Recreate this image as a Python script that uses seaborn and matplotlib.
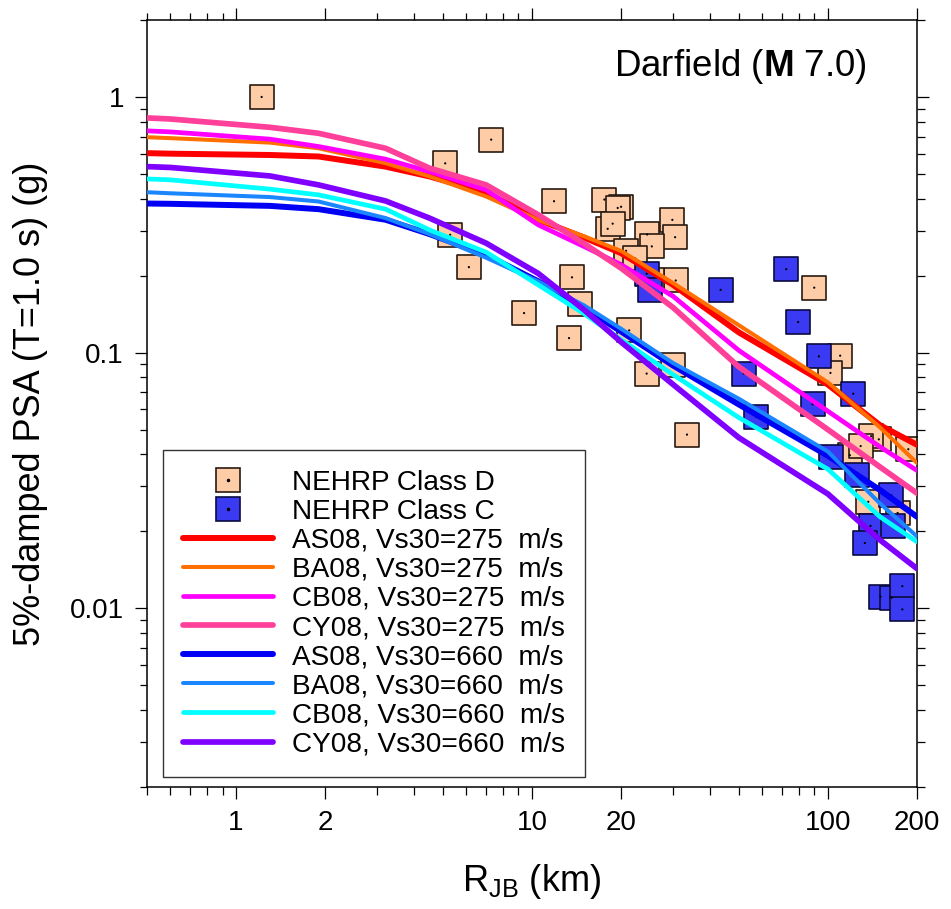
import matplotlib
matplotlib.use("Agg")
import matplotlib.pyplot as plt
import seaborn as sns
from matplotlib.lines import Line2D
from matplotlib.legend_handler import HandlerTuple
from matplotlib.ticker import FixedLocator, FuncFormatter, NullFormatter

sns.set_theme(style="white")
plt.rcParams["font.family"] = ["Liberation Sans", "DejaVu Sans"]
plt.rcParams["mathtext.fontset"] = "custom"
plt.rcParams["mathtext.rm"] = "Liberation Sans"
plt.rcParams["mathtext.bf"] = "Liberation Sans:bold"
plt.rcParams["mathtext.it"] = "Liberation Sans:italic"
for key in ("text.color", "axes.labelcolor", "xtick.color", "ytick.color"):
    plt.rcParams[key] = "black"

# ---- recorded motions (Joyner-Boore distance in km, PSA in g) ----
class_d_rjb = [1.22, 5.09, 7.28, 5.29, 6.12, 9.40, 11.87, 13.65, 14.49, 13.34,
               17.56, 20.0, 19.48, 18.02, 18.73, 29.8, 30.45, 24.5, 25.4, 20.8,
               22.35, 30.6, 25.5, 21.3, 24.4, 30.0, 33.4, 89.9, 110.0, 102.0,
               118.6, 148.6, 140.0, 186.9, 129.0, 136.9, 172.0]
class_d_psa = [1.00, 0.550, 0.681, 0.289, 0.216, 0.1428, 0.391, 0.197, 0.1553, 0.114,
               0.397, 0.372, 0.368, 0.305, 0.3195, 0.3306, 0.2828, 0.2898, 0.2603, 0.2503,
               0.2335, 0.1915, 0.1915, 0.1222, 0.0828, 0.0892, 0.0478, 0.1795, 0.0973, 0.0833,
               0.0397, 0.0458, 0.0471, 0.0419, 0.0431, 0.0261, 0.0236]

class_c_rjb = [24.4, 25.1, 43.4, 72.3, 79.3, 93.2, 51.9, 57.3, 88.7, 121.8,
               102.6, 125.0, 163.7, 139.3, 166.3, 133.3, 150.6, 164.1, 178.4, 178.4]
class_c_psa = [0.2035, 0.1752, 0.176, 0.2121, 0.1317, 0.0967, 0.0828, 0.056, 0.0628, 0.0691,
               0.0391, 0.0332, 0.0277, 0.021, 0.021, 0.018, 0.0111, 0.011, 0.0122, 0.0099]

# ---- GMPE median predictions ----
r_grid = [0.5, 0.6, 1.3, 1.9, 3.2, 4.5, 7.0, 10.5, 15.0, 20.0, 30.0, 50.0, 100.0, 150.0, 200.0]

as08_275 = [0.603, 0.600, 0.593, 0.585, 0.534, 0.489, 0.423, 0.331, 0.282, 0.245, 0.184, 0.120, 0.075, 0.052, 0.0436]
ba08_275 = [0.696, 0.690, 0.663, 0.630, 0.551, 0.489, 0.408, 0.330, 0.285, 0.250, 0.187, 0.128, 0.0765, 0.051, 0.0370]
cb08_275 = [0.737, 0.730, 0.684, 0.640, 0.571, 0.511, 0.433, 0.316, 0.260, 0.221, 0.166, 0.102, 0.059, 0.0428, 0.0346]
cy08_275 = [0.828, 0.820, 0.761, 0.721, 0.630, 0.527, 0.453, 0.346, 0.267, 0.214, 0.150, 0.088, 0.050, 0.0357, 0.0282]
as08_660 = [0.383, 0.382, 0.375, 0.364, 0.331, 0.291, 0.241, 0.190, 0.150, 0.121, 0.089, 0.0627, 0.0395, 0.029, 0.0228]
ba08_660 = [0.424, 0.420, 0.406, 0.390, 0.336, 0.291, 0.235, 0.190, 0.153, 0.124, 0.091, 0.066, 0.041, 0.0257, 0.0191]
cb08_660 = [0.478, 0.474, 0.436, 0.414, 0.364, 0.302, 0.247, 0.184, 0.142, 0.1124, 0.082, 0.0557, 0.035, 0.0228, 0.0182]
cy08_660 = [0.534, 0.530, 0.491, 0.453, 0.392, 0.336, 0.268, 0.204, 0.147, 0.110, 0.075, 0.0465, 0.028, 0.0185, 0.0143]

model_labels = ["AS08, Vs30=275  m/s", "BA08, Vs30=275  m/s", "CB08, Vs30=275  m/s", "CY08, Vs30=275  m/s",
                "AS08, Vs30=660  m/s", "BA08, Vs30=660  m/s", "CB08, Vs30=660  m/s", "CY08, Vs30=660  m/s"]
model_values = [as08_275, ba08_275, cb08_275, cy08_275, as08_660, ba08_660, cb08_660, cy08_660]
model_colors = ["#FF0000", "#FF7000", "#FF00FF", "#FF409A",
                "#0000F5", "#1A86FF", "#00FFFF", "#7F00FF"]
model_widths = [4.3, 2.9, 3.4, 4.1, 4.3, 2.9, 3.4, 4.1]

peach = "#FFCCA8"
peach_edge = "#2A1A10"
blue_face = "#3A3AF2"
blue_edge = "#0A0A40"
msize = 16.6

fig = plt.figure(figsize=(9.51, 9.09), dpi=100)
ax = fig.add_axes([147 / 951, 1 - 787 / 909, 770 / 951, 767 / 909])
ax.set(xscale="log", yscale="log")

sns.scatterplot(x=class_d_rjb, y=class_d_psa, marker="s", s=msize ** 2, color=peach,
                edgecolor=peach_edge, linewidth=1.2, ax=ax, zorder=2, legend=False)
sns.scatterplot(x=class_d_rjb, y=class_d_psa, marker="o", s=2.5, color="black",
                edgecolor="none", ax=ax, zorder=2, legend=False)
sns.scatterplot(x=class_c_rjb, y=class_c_psa, marker="s", s=msize ** 2, color=blue_face,
                edgecolor=blue_edge, linewidth=1.2, ax=ax, zorder=2.1, legend=False)
sns.scatterplot(x=class_c_rjb, y=class_c_psa, marker="o", s=2.5, color="black",
                edgecolor="none", ax=ax, zorder=2.1, legend=False)

for vals, col, lw in zip(model_values, model_colors, model_widths):
    sns.lineplot(x=r_grid, y=vals, color=col, linewidth=lw, ax=ax, zorder=3,
                 estimator=None, sort=False, legend=False)

ax.set_xlim(0.5, 200)
ax.set_ylim(0.002, 2)

ax.xaxis.set_major_locator(FixedLocator([1, 2, 10, 20, 100, 200]))
ax.xaxis.set_minor_locator(FixedLocator([0.5, 0.6, 0.7, 0.8, 0.9, 3, 4, 5, 6, 7, 8, 9,
                                         30, 40, 50, 60, 70, 80, 90]))
ax.xaxis.set_major_formatter(FuncFormatter(lambda v, _: f"{v:g}"))
ax.xaxis.set_minor_formatter(NullFormatter())
ax.yaxis.set_major_locator(FixedLocator([0.01, 0.1, 1]))
ax.yaxis.set_minor_locator(FixedLocator([k * 0.001 for k in range(2, 10)] +
                                        [k * 0.01 for k in range(2, 10)] +
                                        [k * 0.1 for k in range(2, 10)] + [2]))
ax.yaxis.set_major_formatter(FuncFormatter(lambda v, _: f"{v:g}"))
ax.yaxis.set_minor_formatter(NullFormatter())

ax.tick_params(which="both", direction="out", top=True, right=True, bottom=True, left=True,
               labeltop=False, labelright=False, color="black", width=0.9)
ax.tick_params(which="major", length=8.6, labelsize=20, pad=8)
ax.tick_params(which="minor", length=5.4)
for sp in ax.spines.values():
    sp.set_visible(True)
    sp.set_color("black")
    sp.set_linewidth(1.1)
ax.grid(False)

ax.set_xlabel(r"R$_{\mathrm{JB}}$ (km)", fontsize=26)
ax.set_ylabel("5%-damped PSA (T=1.0 s) (g)", fontsize=26)
ax.xaxis.set_label_coords(0.5, -0.098)
ax.yaxis.set_label_coords(-0.128, 0.5)

ax.text(0.935, 0.94, r"Darfield ($\mathbf{M}$ 7.0)", transform=ax.transAxes,
        ha="right", va="center", fontsize=26.5)

handles = [
    (Line2D([], [], ls="", marker="s", ms=msize, mfc=peach, mec=peach_edge, mew=1.2),
     Line2D([], [], ls="", marker="o", ms=1.5, color="black")),
    (Line2D([], [], ls="", marker="s", ms=msize, mfc=blue_face, mec=blue_edge, mew=1.2),
     Line2D([], [], ls="", marker="o", ms=1.5, color="black")),
] + [Line2D([], [], color=c, lw=w, solid_capstyle="round") for c, w in zip(model_colors, model_widths)]
labels = ["NEHRP Class D", "NEHRP Class C"] + model_labels

leg = ax.legend(handles, labels, loc="lower left", bbox_to_anchor=(0.021, 0.013),
                borderaxespad=0, fontsize=20.2, frameon=True, fancybox=False,
                edgecolor="#333333", framealpha=1, handlelength=3.2, handletextpad=0.7,
                labelspacing=0.11, borderpad=0.7,
                handler_map={tuple: HandlerTuple(ndivide=1, pad=0)})
leg.get_frame().set_linewidth(1.0)
leg.set_zorder(5)

fig.savefig("out.png", dpi=100)
